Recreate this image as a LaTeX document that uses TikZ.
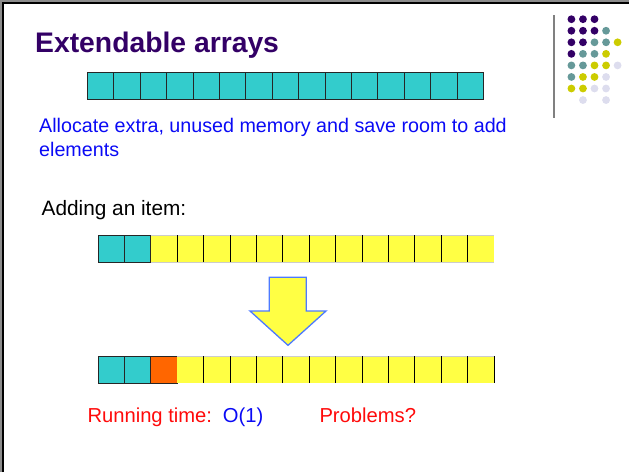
\documentclass[tikz,border=0pt]{standalone}
\usepackage{fontspec}
\setmainfont{Liberation Sans}
\usepackage{xcolor}
\usepackage{tikz}
\usetikzlibrary{calc}
\definecolor{slidepurple}{HTML}{330066}
\definecolor{dotteal}{HTML}{669999}
\definecolor{dotolive}{HTML}{CCCC00}
\definecolor{dotlav}{HTML}{DDDDEE}
\definecolor{cellteal}{HTML}{33CCCC}
\definecolor{cellyellow}{HTML}{FFFF44}
\definecolor{cellorange}{HTML}{FF6600}
\definecolor{arrblue}{HTML}{4D7AFF}
\definecolor{txtblue}{HTML}{0A0AF5}
\definecolor{txtred}{HTML}{FF0A0A}

\begin{document}
\begin{tikzpicture}[
  x=1pt, y=-1pt,
  titletext/.style = {anchor=base west, inner sep=0pt, text=slidepurple,
                      font=\fontsize{28.3}{34}\selectfont\bfseries},
  bodytext/.style  = {anchor=base west, inner sep=0pt, text=#1, align=left,
                      font=\fontsize{19.7}{23.5}\selectfont},
  cell/.style      = {minimum width=26.4pt, minimum height=27pt,
                      inner sep=0pt, outer sep=0pt, anchor=north west, fill=#1},
  boxcell/.style   = {cell=#1, draw=black!85, line width=0.9pt},
  sep/.style       = {draw=black, line width=0.9pt},
  rim/.style       = {draw=black!20, line width=1pt},
  bigarrow/.style  = {draw=arrblue, fill=cellyellow, line width=1.3pt,
                      line join=miter},
  dot/.style       = {fill=#1, draw=none},
]
\useasboundingbox (0,0) rectangle (629,472);

% slide frame and side rule
\draw[black!45, line width=1.6pt] (0.8,472) -- (0.8,0.8) -- (629,0.8);
\draw[black, line width=2.6pt] (3,472) -- (3,3) -- (629,3);
\draw[black!50, line width=1.5pt] (554,15) -- (554,118);

% corner dots
\foreach \c/\r/\col in {1/1/slidepurple, 2/1/slidepurple, 3/1/slidepurple,
    1/2/slidepurple, 2/2/slidepurple, 3/2/slidepurple, 4/2/dotteal,
    1/3/slidepurple, 2/3/slidepurple, 3/3/dotteal, 4/3/dotteal, 5/3/dotolive,
    1/4/slidepurple, 2/4/dotteal, 3/4/dotteal, 4/4/dotolive,
    1/5/dotteal, 2/5/dotteal, 3/5/dotolive, 4/5/dotolive, 5/5/dotlav,
    1/6/dotteal, 2/6/dotolive, 3/6/dotolive, 4/6/dotlav,
    1/7/dotolive, 2/7/dotolive, 3/7/dotlav, 4/7/dotlav,
    2/8/dotlav, 4/8/dotlav}
  \fill[dot=\col] ({571.4+11.55*(\c-1)},{19.2+11.55*(\r-1)}) circle (3.9pt);

% title and text (base of a two-line node is its last line)
\node[titletext] (title) at (35,52) {Extendable arrays};
\node[bodytext=txtblue] (idea) at (39,156.2)
    {Allocate extra, unused memory and save room to add\\elements};
\node[bodytext=black, font=\fontsize{20.8}{25}\selectfont] (adding)
    at (41.5,215.7) {Adding an item:};

% full array
\foreach \i in {1,...,15}
  \node[boxcell=cellteal] (full\i) at ({87.5+26.4*(\i-1)},72) {};

% array before adding
\foreach \i in {1,2}
  \node[boxcell=cellteal] (old\i) at ({98+26.4*(\i-1)},235) {};
\foreach \i in {3,...,15}
  \node[cell=cellyellow] (old\i) at ({98+26.4*(\i-1)},235) {};
\draw[rim] (old3.north west) -- (old15.north east);
\draw[rim] (old3.south west) -- (old15.south east);
\foreach \i in {4,...,15}
  \draw[sep] (old\i.north west) -- (old\i.south west);

% big arrow
\draw[bigarrow] (269.3,277.3) -- (306.3,277.3) -- (306.3,311) -- (326,311)
    -- (288,345.3) -- (250,311) -- (269.3,311) -- cycle;

% array after adding
\foreach \i in {1,2}
  \node[boxcell=cellteal] (new\i) at ({98+26.4*(\i-1)},356) {};
\node[boxcell=cellorange] (new3) at ({98+26.4*2},356) {};
\foreach \i in {4,...,15}
  \node[cell=cellyellow] (new\i) at ({98+26.4*(\i-1)},356) {};
\draw[rim] (new4.north west) -- (new15.north east);
\foreach \i in {5,...,15}
  \draw[sep] (new\i.north west) -- (new\i.south west);
\draw[sep] (new15.north east) -- (new15.south east);

% cost line
\tikzset{bodytext/.append style={font=\fontsize{20.2}{24}\selectfont}}
\node[bodytext=txtred]  (running)  at (87.3,422.7)  {Running time:};
\node[bodytext=txtblue] (cost)     at (222.7,422.7) {O(1)};
\node[bodytext=txtred]  (problems) at (319.3,422.7) {Problems?};
\end{tikzpicture}
\end{document}
